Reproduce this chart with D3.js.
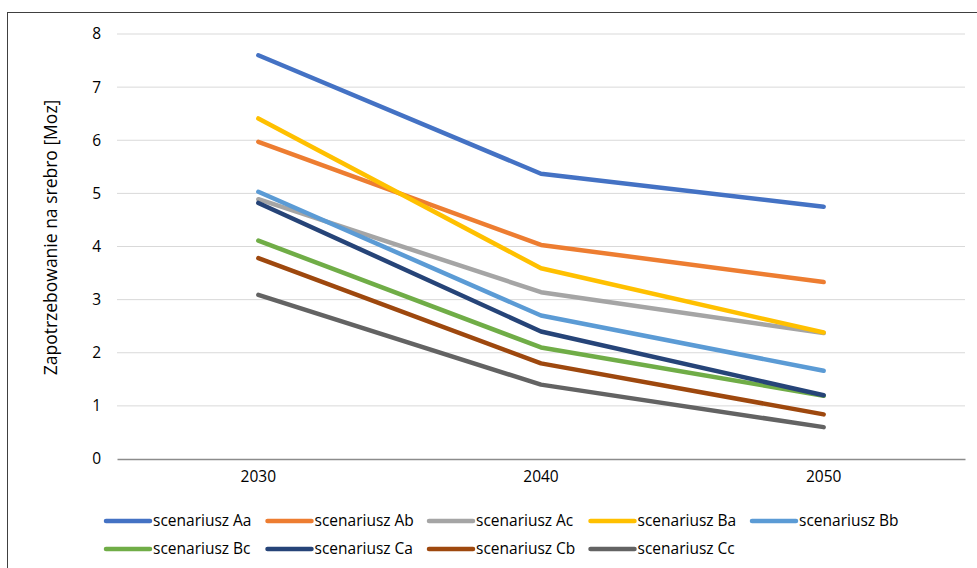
<!DOCTYPE html>
<html>
<head>
<meta charset="utf-8">
<script src="https://cdn.jsdelivr.net/npm/d3@7"></script>
<style>
  html, body { margin: 0; padding: 0; background: #fff; }
  svg { display: block; }
  text { font-family: "Open Sans", Lato, sans-serif; fill: #000; }
</style>
</head>
<body>
<svg id="chart" width="977" height="568"></svg>
<script>
// Silver demand scenarios (Moz) for 2030, 2040 and 2050
const years = ["2030", "2040", "2050"];
const seriesNames = [
  "scenariusz Aa", "scenariusz Ab", "scenariusz Ac",
  "scenariusz Ba", "scenariusz Bb", "scenariusz Bc",
  "scenariusz Ca", "scenariusz Cb", "scenariusz Cc"
];
const seriesColors = [
  "#4472C4", "#ED7D31", "#A5A5A5",
  "#FFC000", "#5B9BD5", "#70AD47",
  "#264478", "#9E480E", "#636363"
];
const valuesAa = [7.60, 5.37, 4.75];
const valuesAb = [5.97, 4.03, 3.33];
const valuesAc = [4.89, 3.14, 2.37];
const valuesBa = [6.41, 3.59, 2.38];
const valuesBb = [5.03, 2.70, 1.66];
const valuesBc = [4.11, 2.10, 1.19];
const valuesCa = [4.82, 2.40, 1.20];
const valuesCb = [3.78, 1.80, 0.84];
const valuesCc = [3.09, 1.40, 0.60];
const yTicks = [0, 1, 2, 3, 4, 5, 6, 7, 8];
const yTitle = "Zapotrzebowanie na srebro [Moz]";

const seriesValues = [valuesAa, valuesAb, valuesAc, valuesBa, valuesBb,
                      valuesBc, valuesCa, valuesCb, valuesCc];
const series = seriesNames.map((name, i) => ({
  name, color: seriesColors[i], values: seriesValues[i]
}));

const svg = d3.select("#chart");
const font = "'Open Sans', Lato, sans-serif";

// chart frame
svg.append("rect")
  .attr("x", 7.5).attr("y", 12.5)
  .attr("width", 980).attr("height", 570)
  .attr("fill", "none").attr("stroke", "#404040").attr("stroke-width", 1);

const plot = { left: 117, right: 965, top: 34, bottom: 459 };

const x = d3.scaleBand().domain(years).range([plot.left, plot.right]);
const y = d3.scaleLinear().domain([0, 8]).range([plot.bottom, plot.top]);

// horizontal gridlines
svg.append("g")
  .selectAll("line")
  .data(yTicks.filter(t => t > 0))
  .join("line")
  .attr("x1", plot.left).attr("x2", plot.right)
  .attr("y1", d => y(d)).attr("y2", d => y(d))
  .attr("stroke", "#d9d9d9").attr("stroke-width", 1);

// y axis labels
const yAxis = d3.axisLeft(y).tickValues(yTicks).tickSize(0).tickPadding(0);
svg.append("g")
  .attr("transform", `translate(${plot.left - 16},0)`)
  .call(yAxis)
  .call(g => g.select(".domain").remove())
  .selectAll("text")
  .style("font-family", font)
  .style("font-size", "15.5px")
  .attr("fill", "#000");

// x axis
const xAxis = d3.axisBottom(x).tickSize(0).tickPadding(12);
svg.append("g")
  .attr("transform", `translate(0,${plot.bottom})`)
  .call(xAxis)
  .call(g => g.select(".domain").attr("stroke", "#8c8c8c").attr("stroke-width", 1.5))
  .selectAll("text")
  .style("font-family", font)
  .style("font-size", "15.5px")
  .attr("fill", "#000");

// y axis title
svg.append("text")
  .attr("transform", `translate(57,${(plot.top + plot.bottom) / 2 - 9}) rotate(-90)`)
  .attr("text-anchor", "middle")
  .style("font-size", "17.5px")
  .text(yTitle);

// series lines
const line = d3.line()
  .x((d, i) => x(years[i]) + x.bandwidth() / 2)
  .y(d => y(d));

svg.append("g")
  .selectAll("path")
  .data(series)
  .join("path")
  .attr("d", d => line(d.values))
  .attr("fill", "none")
  .attr("stroke", d => d.color)
  .attr("stroke-width", 4.5)
  .attr("stroke-linecap", "round")
  .attr("stroke-linejoin", "round");

// legend, five entries per row
const legend = svg.append("g");
const perRow = 5, colW = 161.5, rowH = 28, lx0 = 106, ly0 = 521;
const item = legend.selectAll("g")
  .data(series)
  .join("g")
  .attr("transform", (d, i) =>
    `translate(${lx0 + (i % perRow) * colW},${ly0 + Math.floor(i / perRow) * rowH})`);
item.append("line")
  .attr("x1", 0).attr("x2", 44)
  .attr("stroke", d => d.color)
  .attr("stroke-width", 4.5)
  .attr("stroke-linecap", "round");
item.append("text")
  .attr("x", 47).attr("dy", "0.35em")
  .style("font-size", "15.5px")
  .text(d => d.name);
</script>
</body>
</html>
